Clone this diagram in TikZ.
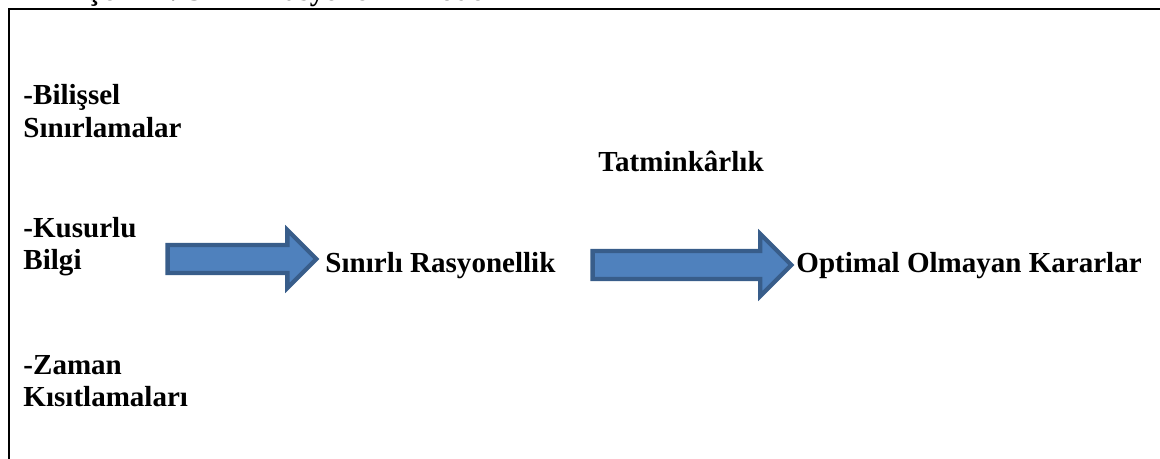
\documentclass[tikz,border=0pt]{standalone}
\usepackage{fontspec}
\setmainfont{Liberation Serif}
\usetikzlibrary{positioning, calc}
\usetikzlibrary{shapes.arrows}

\begin{document}
\begin{tikzpicture}[x=0.4167pt,y=-0.4167pt]
\definecolor{arrowfill}{RGB}{79,129,189};
\definecolor{arrowline}{RGB}{56,93,138};
\useasboundingbox (0,0) rectangle (1160,459);
\tikzstyle{every node}=[inner sep=0pt, anchor=base west, align=left, font=\fontsize{12.1}{13.75}\selectfont\bfseries];
% caption, cut off at the top
\begin{scope}
\clip (0,0) rectangle (1160,459);
\node (cap) at (86,1) {Şekil 4. Sınırlı rasyonellik modeli};
\end{scope}
\draw[line width=0.85pt] (9,459) -- (9,9) -- (1160,9);
\node (bil) at (23,138) {-Bilişsel\\Sınırlamalar};
\node (kus) at (23,270) {-Kusurlu\\Bilgi};
\node (zam) at (23,407) {-Zaman\\Kısıtlamaları};
\node (sr) at (325,273) {Sınırlı Rasyonellik};
\node (tat) at (598,172) {Tatminkârlık};
\node (opt) at (796,273) {Optimal Olmayan Kararlar};
\tikzstyle{every node}=[draw=arrowline, fill=arrowfill, line width=1.8pt, shape=single arrow, single arrow head extend=6.25pt, inner sep=4.93pt, minimum height=62pt];
\node (a1) at (235,259) {};
\node (a2) [minimum height=82.8pt, single arrow head extend=7.1pt] at (685,265) {};
\end{tikzpicture}
\end{document}
